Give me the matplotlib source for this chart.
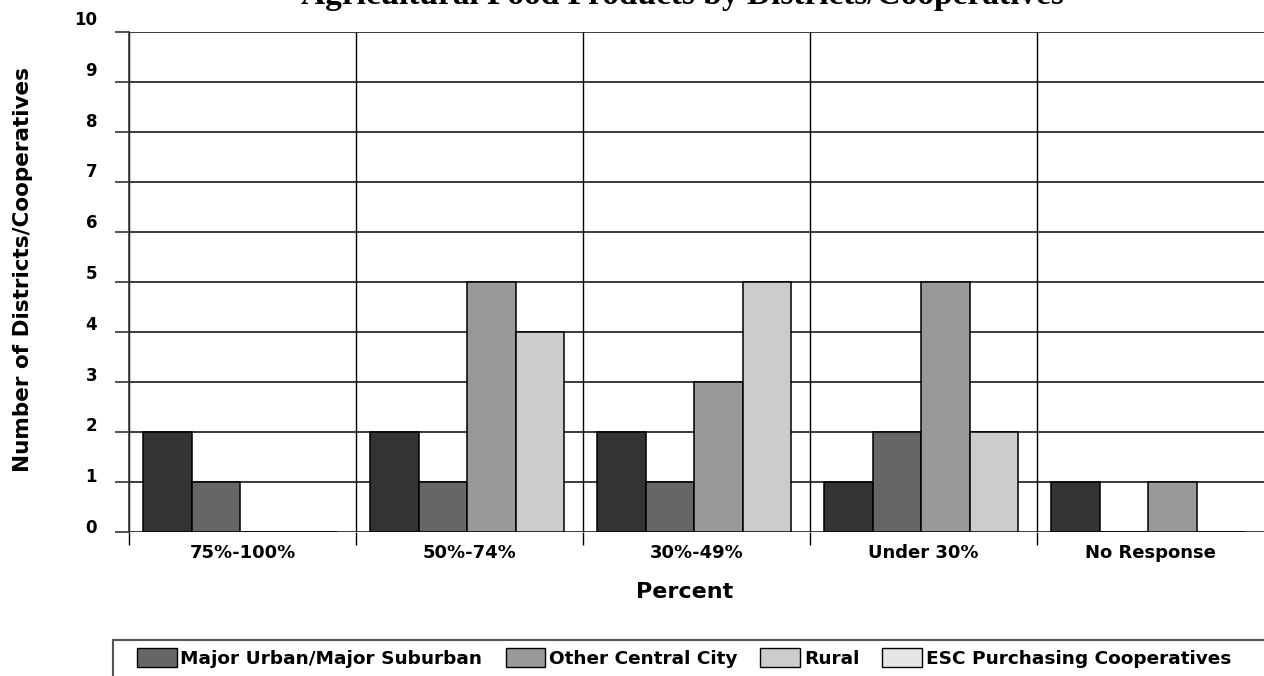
import matplotlib
matplotlib.use("Agg")
import matplotlib.pyplot as plt
from matplotlib.patches import Rectangle, Patch
from matplotlib.transforms import ScaledTranslation
import numpy as np

title = "Agricultural Food Products by Districts/Cooperatives"
categories = ["75%-100%", "50%-74%", "30%-49%", "Under 30%", "No Response"]
series_a = [2, 2, 2, 1, 1]
series_b = [1, 1, 1, 2, 0]
series_c = [0, 5, 3, 5, 1]
series_d = [0, 4, 5, 2, 0]
legend_labels = ["Major Urban/Major Suburban", "Other Central City", "Rural",
                 "ESC Purchasing Cooperatives"]
bar_colors = ["#333333", "#666666", "#999999", "#cccccc"]
legend_colors = ["#666666", "#999999", "#cccccc", "#e6e6e6"]
y_ticks = list(range(0, 11))

W, H = 1264, 676
fig = plt.figure(figsize=(W / 100, H / 100), dpi=100)
ax = fig.add_axes([129 / W, 1 - 532 / H, 1 - 129 / W, (532 - 32) / H])

series = [series_a, series_b, series_c, series_d]
n = len(categories)
x = np.arange(n)
w = 48.5 / 227
for j, vals in enumerate(series):
    ax.bar(x + 0.49 + (j - 1.5) * w, vals, width=w, color=bar_colors[j],
           edgecolor="black", linewidth=1.1, zorder=3)

ax.set_xlim(0, n)
ax.set_ylim(0, 10)
for s in ["top", "right", "bottom"]:
    ax.spines[s].set_visible(False)
ax.spines["left"].set_color("#333333")
ax.spines["left"].set_linewidth(1.2)

ax.set_yticks(y_ticks)
ax.set_yticklabels([str(v) for v in y_ticks], fontsize=12, fontweight="bold")
ax.tick_params(axis="y", length=10, width=1.2, color="#333333", pad=13)
ax.grid(axis="y", color="#1a1a1a", linewidth=1.2, zorder=1)
for lab, v in zip(ax.get_yticklabels(), y_ticks):
    off = (6 + 0.8 * v) / 100
    lab.set_transform(lab.get_transform() + ScaledTranslation(0, off, fig.dpi_scale_trans))

ax.set_xticks(x + 0.5)
ax.set_xticklabels(categories, fontsize=13, fontweight="bold")
ax.tick_params(axis="x", which="major", length=0, pad=8.5)
ax.set_xticks(x, minor=True)
ax.tick_params(axis="x", which="minor", length=9, width=1, color="black", direction="out")
ax.grid(axis="x", which="minor", color="black", linewidth=1, zorder=1)
ax.grid(axis="x", which="major", visible=False)
ax.set_axisbelow(True)

fig.text(682 / W, 1 - 4 / H, title, ha="center", va="baseline",
         family="Liberation Serif", fontweight="bold", fontsize=24)
fig.text(685 / W, 1 - 592 / H, "Percent", ha="center", va="center",
         fontsize=16, fontweight="bold")
fig.text(23 / W, 1 - 270 / H, "Number of Districts/Cooperatives", ha="center",
         va="center", rotation=90, fontsize=15.5, fontweight="bold")

handles = [Patch(facecolor=c, edgecolor="black", linewidth=1) for c in legend_colors]
fig.legend(handles, legend_labels, loc="upper left",
           bbox_to_anchor=(137 / W, 1 - 648 / H), ncol=4, frameon=False,
           prop={"weight": "bold", "size": 13.3}, handlelength=2.15,
           handleheight=1.2, handletextpad=0.2, columnspacing=1.25,
           borderpad=0, borderaxespad=0)
fig.patches.append(Rectangle((113 / W, -0.1), 1.2, 0.1 + (676 - 640) / H,
                             transform=fig.transFigure, fill=False,
                             edgecolor="#555555", linewidth=1.5))

fig.savefig("out.png", dpi=100)
